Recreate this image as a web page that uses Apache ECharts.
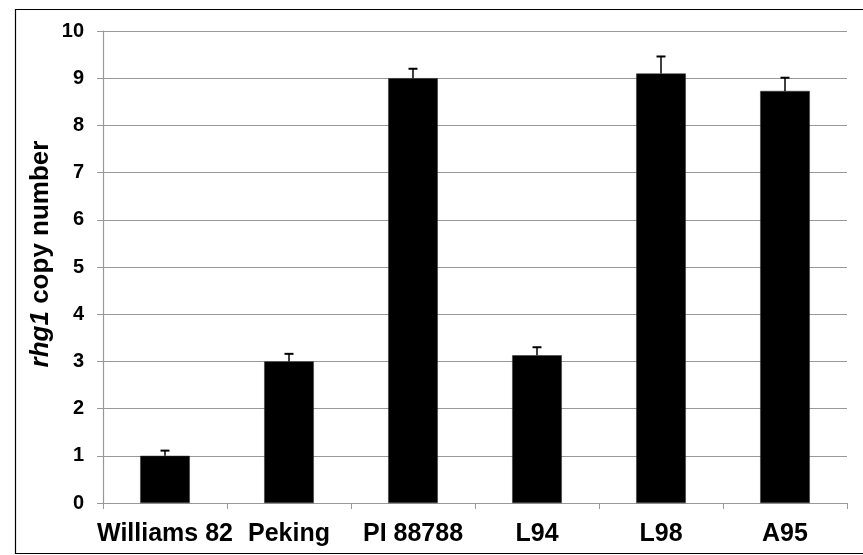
<!DOCTYPE html>
<html>
<head>
<meta charset="utf-8">
<script src="https://cdn.jsdelivr.net/npm/echarts@6/dist/echarts.min.js"></script>
<style>
  html, body { margin: 0; padding: 0; background: #fff; }
  #chart { width: 863px; height: 555px; }
</style>
</head>
<body>
<div id="chart"></div>
<script>
// Soybean lines and their rhg1 copy number (mean and upper error)
const categories = ['Williams 82', 'Peking', 'PI 88788', 'L94', 'L98', 'A95'];
const copyNumber = [1.0, 3.0, 9.0, 3.13, 9.1, 8.73];
const errorUp = [0.11, 0.16, 0.2, 0.17, 0.36, 0.28];
const yTicks = [0, 1, 2, 3, 4, 5, 6, 7, 8, 9, 10];

const FONT = '"Liberation Sans", Arial, sans-serif';
const chart = echarts.init(document.getElementById('chart'));

const errorData = categories.map((c, i) => [i, copyNumber[i], copyNumber[i] + errorUp[i]]);

chart.setOption({
  animation: false,
  backgroundColor: '#fff',
  grid: { left: 103, right: 16, top: 31, bottom: 52 },
  graphic: [
    {
      type: 'rect',
      shape: { x: 15.5, y: 9.5, width: 900, height: 544 },
      style: { fill: 'none', stroke: '#000', lineWidth: 1.2 },
      silent: true
    },
    {
      type: 'text',
      x: 41,
      y: 254,
      rotation: Math.PI / 2,
      style: {
        text: '{i|rhg1} copy number',
        font: 'bold 26px ' + FONT,
        fill: '#000',
        align: 'center',
        verticalAlign: 'middle',
        rich: {
          i: { fontStyle: 'italic', fontWeight: 'bold', fontSize: 26, fontFamily: FONT, fill: '#000' }
        }
      }
    }
  ],
  xAxis: {
    type: 'category',
    data: categories,
    boundaryGap: true,
    axisLine: { lineStyle: { color: '#999', width: 1.2 } },
    axisTick: { show: true, length: 6, lineStyle: { color: '#999' } },
    axisLabel: {
      color: '#000', fontFamily: FONT, fontWeight: 'bold', fontSize: 25, margin: 19, interval: 0
    }
  },
  yAxis: {
    type: 'value',
    min: 0,
    max: 10,
    interval: 1,
    axisLine: { show: true, lineStyle: { color: '#999', width: 1.2 } },
    axisTick: { show: true, length: 6, lineStyle: { color: '#999' } },
    axisLabel: {
      color: '#000', fontFamily: FONT, fontWeight: 'bold', fontSize: 20, margin: 19,
      formatter: v => (yTicks.includes(v) ? String(v) : '')
    },
    splitLine: { show: true, lineStyle: { color: '#999', width: 1.2 } }
  },
  series: [
    {
      type: 'bar',
      data: copyNumber,
      barWidth: '40%',
      itemStyle: { color: '#000', borderColor: '#333', borderWidth: 0.5 }
    },
    {
      type: 'custom',
      data: errorData,
      z: 3,
      renderItem: function (params, api) {
        const base = api.coord([api.value(0), api.value(1)]);
        const top = api.coord([api.value(0), api.value(2)]);
        const half = 4.5;
        return {
          type: 'group',
          children: [
            {
              type: 'line',
              shape: { x1: base[0], y1: base[1], x2: top[0], y2: top[1] },
              style: { stroke: '#000', lineWidth: 1.5 }
            },
            {
              type: 'line',
              shape: { x1: top[0] - half, y1: top[1], x2: top[0] + half, y2: top[1] },
              style: { stroke: '#000', lineWidth: 2 }
            }
          ]
        };
      }
    }
  ]
});
</script>
</body>
</html>
